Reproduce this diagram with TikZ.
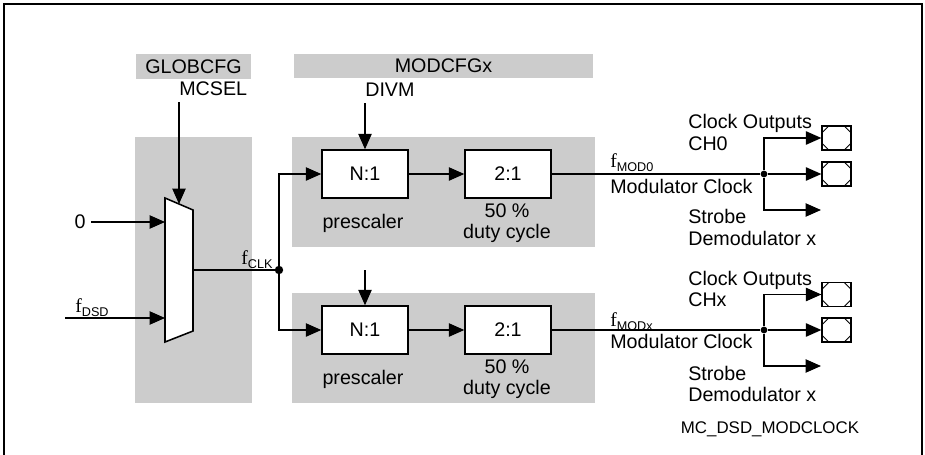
\documentclass[tikz,border=0pt]{standalone}
\usepackage{fontspec}
\setmainfont{Liberation Sans}
\newfontfamily\serfont{Liberation Serif}
\usepackage{tikz}
\usetikzlibrary{positioning, arrows.meta, calc}
\definecolor{pgray}{RGB}{204,204,204}
\newcommand{\fsig}[1]{{\serfont f}\raisebox{-0.4ex}{\fontsize{9}{10}\selectfont #1}}

\begin{document}
\begin{tikzpicture}[x=0.025cm, y=-0.025cm,
    every node/.style={font=\fontsize{14}{15}\selectfont, inner sep=0pt},
    panel/.style={fill=pgray, draw=none, minimum width=7.575cm, minimum height=2.75cm},
    regbox/.style={fill=pgray, draw=none, minimum height=0.62cm},
    blk/.style={draw, fill=white, line width=1pt, minimum width=2.15cm, minimum height=1.2cm},
    pad/.style={draw, fill=white, line width=0.9pt, minimum width=0.725cm, minimum height=0.6cm,
      path picture={
        \draw[line width=0.6pt] ([xshift=0.17cm]path picture bounding box.north west) -- ([yshift=-0.17cm]path picture bounding box.north west);
        \draw[line width=0.6pt] ([xshift=-0.17cm]path picture bounding box.north east) -- ([yshift=-0.17cm]path picture bounding box.north east);
        \draw[line width=0.6pt] ([xshift=0.17cm]path picture bounding box.south west) -- ([yshift=0.17cm]path picture bounding box.south west);
        \draw[line width=0.6pt] ([xshift=-0.17cm]path picture bounding box.south east) -- ([yshift=0.17cm]path picture bounding box.south east);
      }},
    lbl/.style={align=left, font=\fontsize{14}{15.5}\selectfont},
    arr/.style={-{Triangle[length=11pt, width=9.5pt]}, line width=0.95pt},
    wire/.style={line width=0.95pt},
    dot/.style={circle, fill=black, minimum size=0.21cm}]
  \useasboundingbox (0,0) rectangle (925,454);
  \draw[line width=1.1pt] (4,460) -- (4,4) -- (922,4) -- (922,460);

  % register fields
  \node[regbox, minimum width=2.875cm] (globcfg) at (193.5,66.5) {GLOBCFG};
  \node[regbox, minimum width=7.475cm] (modcfg) at (443.5,66) {MODCFGx};
  \node[anchor=west] (mcsel) at (179,89) {MCSEL};
  \node[anchor=west] (divm) at (365,90) {DIVM};

  % gray areas
  \node[fill=pgray, minimum width=2.925cm, minimum height=6.65cm] (selarea) at (193.5,270) {};
  \node[panel] (cha) at (443.5,192) {};
  \node[panel] (chb) at (443.5,348) {};

  % multiplexer
  \coordinate (mux tl) at (165,198);
  \coordinate (mux tr) at (193,210);
  \coordinate (mux br) at (193,331);
  \coordinate (mux bl) at (165,342);
  \coordinate (mux sel) at (179,204);
  \coordinate (mux in0) at (165,222);
  \coordinate (mux in1) at (165,318);
  \coordinate (mux out) at (193,270);
  \draw[line width=1.1pt, fill=white] (mux tl) -- (mux tr) -- (mux br) -- (mux bl) -- cycle;

  \node[inner xsep=4pt] (zero) at (80,222) {0};
  \coordinate (dsd in) at (65,318);
  \node (fdsd) at (92,308) {\fsig{DSD}};
  \draw[arr] (zero) -- (mux in0);
  \draw[arr] (dsd in) -- (mux in1);
  \draw[arr] ([yshift=-0.15cm]mcsel.south west) -- (mux sel);

  \node[dot] (clk) at (279,270) {};
  \node (fclk) at (257,260) {\fsig{CLK}};
  \draw[wire] (mux out) -- (clk);

  % channel 0
  \node[blk] (diva) at (365,174) {N:1};
  \node[blk] (halfa) at (508,174) {2:1};
  \node (prea) at (363,223) {prescaler};
  \node[align=center, font=\fontsize{14}{14.5}\selectfont] (dutya) at (507,223) {50 \%\\duty cycle};
  \draw[arr] (clk) |- (diva);
  \draw[arr] ([yshift=-0.15cm]divm.south west) -- (diva);
  \draw[arr] (diva) -- (halfa);

  \node[dot, minimum size=0.17cm] (moda) at (764,174) {};
  \draw[wire] (halfa) -- (moda);
  \node[anchor=west] (fmoda) at (610,163) {\fsig{MOD0}};
  \node[anchor=west] (mclka) at (610,186) {Modulator Clock};
  \node[pad] (pada1) at (836.5,138) {};
  \node[pad] (pada2) at (836.5,174) {};
  \coordinate (stra) at (821,210);
  \draw[arr] (moda) |- (pada1);
  \draw[arr] (moda) -- (pada2);
  \draw[arr] (moda) |- (stra);
  \node[lbl, anchor=west] (outa) at (688,132.5) {Clock Outputs\\CH0};
  \node[lbl, anchor=west] (demoda) at (688,227.5) {Strobe\\Demodulator x};

  % channel x
  \node[blk] (divb) at (365,330) {N:1};
  \node[blk] (halfb) at (508,330) {2:1};
  \node (preb) at (363,379) {prescaler};
  \node[align=center, font=\fontsize{14}{14.5}\selectfont] (dutyb) at (507,379) {50 \%\\duty cycle};
  \coordinate (divmb) at (365,270);
  \draw[arr] (clk) |- (divb);
  \draw[arr] (divmb) -- (divb);
  \draw[arr] (divb) -- (halfb);

  \node[dot, minimum size=0.17cm] (modb) at (764,330) {};
  \draw[wire] (halfb) -- (modb);
  \node[anchor=west] (fmodb) at (610,322) {\fsig{MODx}};
  \node[anchor=west] (mclkb) at (610,341) {Modulator Clock};
  \node[pad] (padb1) at (836.5,294.5) {};
  \node[pad] (padb2) at (836.5,330) {};
  \coordinate (strb) at (821,366);
  \draw[arr] (modb) |- (padb1);
  \draw[arr] (modb) -- (padb2);
  \draw[arr] (modb) |- (strb);
  \node[lbl, anchor=west] (outb) at (688,289) {Clock Outputs\\CHx};
  \node[lbl, anchor=west] (demodb) at (688,384) {Strobe\\Demodulator x};

  \node[font=\fontsize{12}{14}\selectfont] (figid) at (770,429) {MC\_DSD\_MODCLOCK};
\end{tikzpicture}
\end{document}
